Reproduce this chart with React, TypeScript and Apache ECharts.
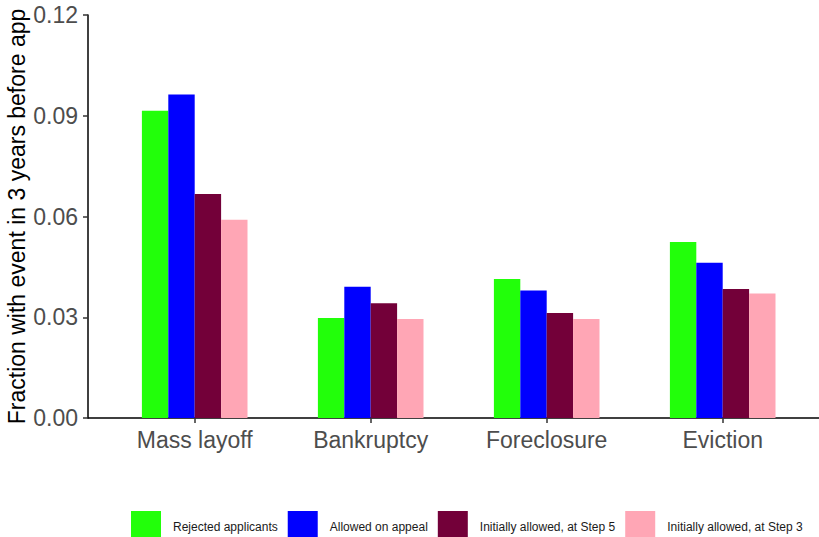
import React, { useEffect, useRef } from "react";
import * as echarts from "echarts";

const categories = ["Mass layoff", "Bankruptcy", "Foreclosure", "Eviction"];
const seriesNames = [
  "Rejected applicants",
  "Allowed on appeal",
  "Initially allowed, at Step 5",
  "Initially allowed, at Step 3",
];
const rejected = [0.0915, 0.0298, 0.0414, 0.0524];
const allowedAppeal = [0.0963, 0.0391, 0.038, 0.0462];
const step5 = [0.0667, 0.0342, 0.0313, 0.0384];
const step3 = [0.059, 0.0295, 0.0295, 0.0371];
const colors = ["#22FF0A", "#0000FF", "#730039", "#FFA6B5"];

export default function App() {
  const ref = useRef<HTMLDivElement>(null);
  useEffect(() => {
    if (!ref.current) return;
    const chart = echarts.init(ref.current, undefined, { renderer: "svg" });
    const all = [rejected, allowedAppeal, step5, step3];
    const font = "Liberation Sans, Arial, sans-serif";
    chart.setOption({
      animation: false,
      grid: [
        { left: 106.7, width: 704, top: 15, bottom: 119, outerBoundsMode: "none", containLabel: false },
        { left: 88, width: 740, top: 15, bottom: 119, outerBoundsMode: "none", containLabel: false },
      ],
      legend: {
        data: seriesNames,
        left: 126,
        top: 506,
        itemWidth: 30,
        itemHeight: 32,
        itemGap: 10,
        icon: "rect",
        textStyle: { fontFamily: font, fontSize: 12, color: "#1a1a1a", padding: [0, 0, 0, 7] },
      },
      xAxis: [
        {
          type: "category",
          gridIndex: 0,
          data: categories,
          axisLine: { show: false },
          axisTick: { show: true, alignWithLabel: true, length: 5, lineStyle: { color: "#333", width: 1.5 } },
          axisLabel: { fontFamily: font, fontSize: 23, color: "#4D4D4D", margin: 10 },
          splitLine: { show: false },
        },
        {
          type: "value",
          gridIndex: 1,
          min: 0,
          max: 1,
          axisLine: { show: true, onZero: false, lineStyle: { color: "#000", width: 1.5 } },
          axisTick: { show: false },
          axisLabel: { show: false },
          splitLine: { show: false },
        },
      ],
      yAxis: [
        {
          type: "value",
          gridIndex: 0,
          min: 0,
          max: 0.12,
          interval: 0.03,
          show: false,
          splitLine: { show: false },
        },
        {
          type: "value",
          gridIndex: 1,
          min: 0,
          max: 0.12,
          interval: 0.03,
          name: "Fraction with event in 3 years before app",
          nameLocation: "middle",
          nameGap: 60,
          nameMoveOverlap: false,
          nameTextStyle: { fontFamily: font, fontSize: 23, color: "#000" },
          splitLine: { show: false },
          axisLine: { show: true, onZero: false, lineStyle: { color: "#000", width: 1.5 } },
          axisTick: { show: true, length: 5, lineStyle: { color: "#333", width: 1.5 } },
          axisLabel: {
            formatter: (v: number) => v.toFixed(2),
            fontFamily: font,
            fontSize: 23,
            color: "#4D4D4D",
            margin: 10,
          },
        },
      ],
      series: all.map((arr, si) => ({
        name: seriesNames[si],
        type: "bar",
        xAxisIndex: 0,
        yAxisIndex: 0,
        barWidth: 26.4,
        barGap: "0%",
        itemStyle: { color: colors[si] },
        data: arr,
      })),
    });
    return () => chart.dispose();
  }, []);
  return (
    <div
      ref={ref}
      style={{ position: "absolute", left: 0, top: 0, width: 819, height: 537, background: "#fff" }}
    />
  );
}
